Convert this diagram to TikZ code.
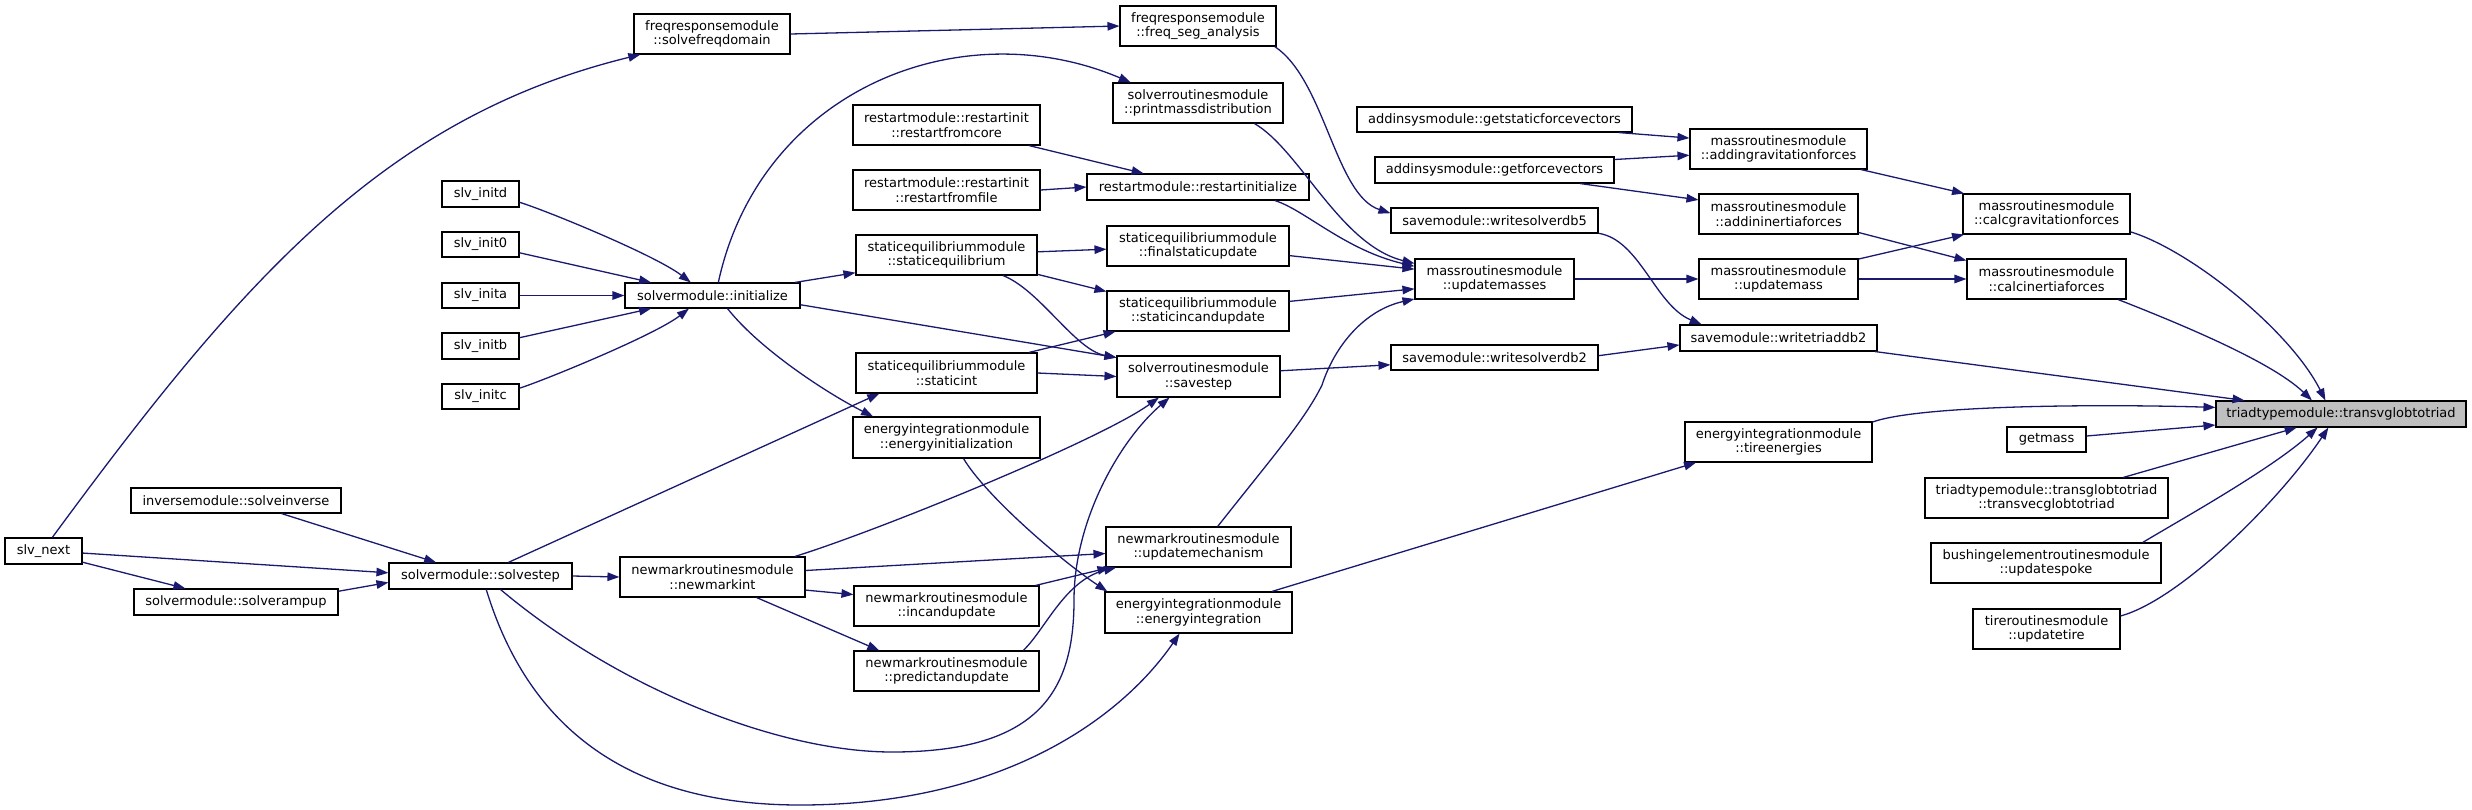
\documentclass[tikz,border=0pt]{standalone}
\usepackage{fontspec}
\setmainfont{DejaVu Sans}
\usetikzlibrary{arrows.meta}
\definecolor{navyedge}{HTML}{191970}
\definecolor{tgtfill}{HTML}{BFBFBF}
\tikzset{
  box/.style={draw=black, line width=1.1pt, fill=white, inner sep=0pt, align=center,
    font=\fontsize{13pt}{14.5pt}\selectfont},
  edge/.style={draw=navyedge, line width=1.3pt, -{Triangle[length=12pt,width=8.5pt]}},
}
\newcommand{\mknode}[7][]{\node[box,#1,minimum width=#5pt,minimum height=#6pt] (#2) at (#3,#4) {#7};}
\begin{document}
\begin{tikzpicture}[x=1pt,y=-1pt]
\useasboundingbox (0,0) rectangle (2472,809);
% column 1-4
\mknode{snx}{43.5}{551}{77}{26}{slv\_next}
\mknode{sinv}{236}{500.5}{210}{25}{inversemodule::solveinverse}
\mknode{sru}{236}{602}{204}{26}{solvermodule::solverampup}
\mknode{sid}{480.5}{194}{77}{26}{slv\_initd}
\mknode{si0}{480.5}{244.5}{77}{25}{slv\_init0}
\mknode{sia}{480.5}{295.5}{77}{25}{slv\_inita}
\mknode{sib}{480.5}{346}{77}{26}{slv\_initb}
\mknode{sic}{480.5}{396.5}{77}{25}{slv\_initc}
\mknode{sst}{480.5}{576}{183}{26}{solvermodule::solvestep}
\mknode{sfd}{712}{34}{156}{40}{freqresponsemodule\\::solvefreqdomain}
\mknode{ini}{712.5}{295.5}{175}{25}{solvermodule::initialize}
\mknode{nmi}{712.5}{577}{185}{40}{newmarkroutinesmodule\\::newmarkint}
% column 5
\mknode{rfc}{946.5}{125}{187}{40}{restartmodule::restartinit\\::restartfromcore}
\mknode{rff}{946.5}{190}{187}{40}{restartmodule::restartinit\\::restartfromfile}
\mknode{seq}{946.5}{255}{181}{40}{staticequilibriummodule\\::staticequilibrium}
\mknode{sint}{946.5}{373}{181}{40}{staticequilibriummodule\\::staticint}
\mknode{ein}{946.5}{437.5}{187}{41}{energyintegrationmodule\\::energyinitialization}
\mknode{icu}{946.5}{606}{185}{40}{newmarkroutinesmodule\\::incandupdate}
\mknode{pau}{946.5}{671}{185}{40}{newmarkroutinesmodule\\::predictandupdate}
% column 6
\mknode{fsa}{1198}{26}{156}{40}{freqresponsemodule\\::freq\_seg\_analysis}
\mknode{pmd}{1198}{103}{170}{40}{solverroutinesmodule\\::printmassdistribution}
\mknode{rin}{1198}{187}{222}{26}{restartmodule::restartinitialize}
\mknode{fsu}{1198}{246}{182}{40}{staticequilibriummodule\\::finalstaticupdate}
\mknode{siu}{1198}{311}{182}{40}{staticequilibriummodule\\::staticincandupdate}
\mknode{ssv}{1198.5}{376.5}{163}{41}{solverroutinesmodule\\::savestep}
\mknode{umech}{1198.5}{547}{185}{40}{newmarkroutinesmodule\\::updatemechanism}
\mknode{eint}{1198.5}{612.5}{187}{41}{energyintegrationmodule\\::energyintegration}
% column 7
\mknode{gsf}{1494.5}{119.5}{275}{25}{addinsysmodule::getstaticforcevectors}
\mknode{gfv}{1494.5}{170}{239}{26}{addinsysmodule::getforcevectors}
\mknode{wdb5}{1494.5}{220.5}{207}{25}{savemodule::writesolverdb5}
\mknode{ums}{1494.5}{279}{159}{40}{massroutinesmodule\\::updatemasses}
\mknode{wdb2}{1494.5}{357.5}{207}{25}{savemodule::writesolverdb2}
% column 8
\mknode{agf}{1778.5}{149}{177}{40}{massroutinesmodule\\::addingravitationforces}
\mknode{aif}{1778.5}{214}{159}{40}{massroutinesmodule\\::addininertiaforces}
\mknode{um}{1778.5}{279}{159}{40}{massroutinesmodule\\::updatemass}
\mknode{wtd2}{1778.5}{338}{197}{26}{savemodule::writetriaddb2}
\mknode{tire}{1778.5}{442}{187}{40}{energyintegrationmodule\\::tireenergies}
% column 9
\mknode{cgf}{2046.5}{214}{167}{40}{massroutinesmodule\\::calcgravitationforces}
\mknode{cif}{2046.5}{279}{159}{40}{massroutinesmodule\\::calcinertiaforces}
\mknode{gm}{2046.5}{439.5}{79}{25}{getmass}
\mknode{tvg}{2046.5}{498}{243}{40}{triadtypemodule::transglobtotriad\\::transvecglobtotriad}
\mknode{usp}{2046}{563}{230}{40}{bushingelementroutinesmodule\\::updatespoke}
\mknode{utr}{2046.5}{629}{147}{40}{tireroutinesmodule\\::updatetire}
% target
\mknode[fill=tgtfill]{tgt}{2341}{414}{250}{26}{triadtypemodule::transvglobtotriad}
% edges
\draw[edge] (snx.57) .. controls (243,278) and (385,117) .. (sfd.-164);
\draw[edge] (sfd.east) -- (fsa.west);
\draw[edge] (fsa.-15) .. controls (1325,80) and (1335,195) .. (wdb5.176);
\draw[edge] (sid.-12) .. controls (545,210) and (655,255) .. (ini.149);
\draw[edge] (si0.-12) -- (ini.168);
\draw[edge] (sia.east) -- (ini.west);
\draw[edge] (sib.12) -- (ini.-168);
\draw[edge] (sic.12) .. controls (545,380) and (655,335) .. (ini.-151);
\draw[edge] (ini.66) .. controls (760,90) and (960,10) .. (pmd.163);
\draw[edge] (ini.9) -- (seq.-169);
\draw[edge] (ini.-6) -- (ssv.167);
\draw[edge] (ini.-41) .. controls (760,350) and (830,395) .. (ein.164);
\draw[edge] (seq.2) -- (fsu.-178);
\draw[edge] (seq.-12) -- (siu.168);
\draw[edge] (seq.-20) .. controls (1040,290) and (1075,350) .. (ssv.167);
\draw[edge] (sint.14) -- (siu.-166);
\draw[edge] (sint.east) -- (ssv.west);
\draw[edge] (ssv.4) -- (wdb2.-176);
\draw[edge] (rfc.-14) -- (rin.166);
\draw[edge] (rff.east) -- (rin.west);
\draw[edge] (pmd.-20) .. controls (1300,150) and (1340,245) .. (ums.169);
\draw[edge] (rin.-10) .. controls (1305,210) and (1345,250) .. (ums.171);
\draw[edge] (fsu.-6) -- (ums.173);
\draw[edge] (siu.6) -- (ums.-173);
\draw[edge] (umech.47) .. controls (1270,460) and (1305,420) .. (1322,385) .. controls (1335,345) and (1365,310) .. (ums.-166);
\draw[edge] (ums.east) -- (um.west);
\draw[edge] (gsf.-6) -- (agf.173);
\draw[edge] (gfv.5) -- (agf.-176);
\draw[edge] (gfv.-9) -- (aif.170);
\draw[edge] (agf.-14) -- (cgf.166);
\draw[edge] (aif.-13) -- (cif.167);
\draw[edge] (um.14) -- (cgf.-166);
\draw[edge] (um.east) -- (cif.west);
\draw[edge] (cgf.-12) .. controls (2190,250) and (2290,330) .. (tgt.139);
\draw[edge] (cif.-16) .. controls (2170,320) and (2270,360) .. (tgt.155);
\draw[edge] (wtd2.-8) -- (tgt.172);
\draw[edge] (tire.12) .. controls (1920,405) and (2100,404) .. (tgt.177);
\draw[edge] (gm.5) -- (tgt.-175);
\draw[edge] (tvg.15) -- (tgt.-163);
\draw[edge] (usp.12) .. controls (2180,520) and (2270,470) .. (tgt.-150);
\draw[edge] (utr.10) .. controls (2180,600) and (2280,500) .. (tgt.-133);
\draw[edge] (wdb5.-7) .. controls (1640,240) and (1655,305) .. (wtd2.170);
\draw[edge] (wdb2.1) -- (wtd2.-176);
\draw[edge] (eint.16) -- (tire.-166);
\draw[edge] (ein.-51) .. controls (985,495) and (1060,560) .. (eint.167);
\draw[edge] (snx.-3) -- (sst.178);
\draw[edge] (snx.-16) -- (sru.165);
\draw[edge] (sinv.-16) -- (sst.163);
\draw[edge] (sru.6) -- (sst.-176);
\draw[edge] (sst.east) -- (nmi.west);
\draw[edge] (sst.26) -- (sint.-163);
\draw[edge] (sst.-34) .. controls (620,690) and (780,752) .. (892,752) .. controls (1040,752) and (1074,690) .. (1074,600) .. controls (1074,520) and (1120,440) .. (ssv.-144);
\draw[edge] (sst.-67) .. controls (520,700) and (600,805) .. (800,805) .. controls (1000,805) and (1120,720) .. (eint.-132);
\draw[edge] (nmi.4) -- (umech.-176);
\draw[edge] (nmi.-8) -- (icu.173);
\draw[edge] (nmi.-25) -- (pau.163);
\draw[edge] (icu.13) -- (umech.-167);
\draw[edge] (pau.15) .. controls (1045,630) and (1065,580) .. (umech.-166);
\draw[edge] (nmi.14) .. controls (880,530) and (1100,440) .. (ssv.-152);
\end{tikzpicture}
\end{document}
